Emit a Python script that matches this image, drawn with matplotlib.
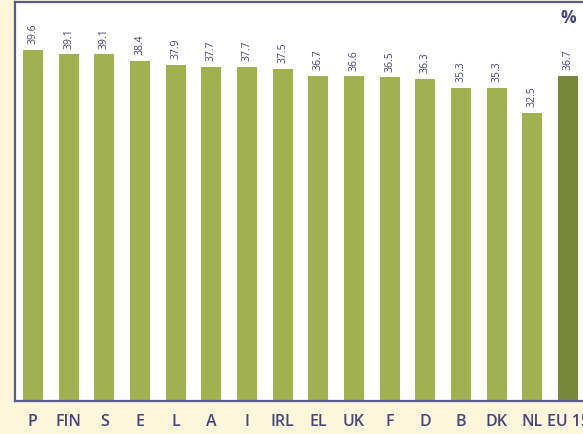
import matplotlib
matplotlib.use("Agg")
import matplotlib.pyplot as plt

categories = ["P", "FIN", "S", "E", "L", "A", "I", "IRL", "EL", "UK", "F", "D", "B", "DK", "NL", "EU 15"]
values = [39.6, 39.1, 39.1, 38.4, 37.9, 37.7, 37.7, 37.5, 36.7, 36.6, 36.5, 36.3, 35.3, 35.3, 32.5, 36.7]

bg = "#FFF6DC"
navy = "#45457F"
green = "#A1B150"
dark = "#78873C"

plt.rcParams['font.family'] = ['Open Sans', 'DejaVu Sans']

fig = plt.figure(figsize=(5.83, 4.34), dpi=100, facecolor=bg)
ax = fig.add_axes([15/583, 33/434, 571/583, 399/434])
ax.set_facecolor("white")

x = list(range(len(categories)))
colors = [green] * (len(categories) - 1) + [dark]
ax.bar(x, values, width=0.56, color=colors, zorder=2)

for xi, v in zip(x, values):
    ax.text(xi, v + 0.65, f"{v:.1f}", rotation=90, ha="center", va="bottom",
            fontsize=7.5, color=navy)

ax.set_xlim(-0.5, 15.5)
ax.set_ylim(0, 45)
ax.set_yticks([])
ax.set_xticks(x)
ax.set_xticklabels(categories, fontsize=11.5, color=navy, fontweight="semibold")
ax.tick_params(axis="x", length=0, pad=9)

for s in ["left", "top", "bottom"]:
    ax.spines[s].set_color("#5A5A92")
    ax.spines[s].set_linewidth(1.6)
ax.spines["right"].set_visible(False)

fig.text(568/583, 1 - 18/434, "%", fontsize=12.5, fontweight="bold", color=navy,
         ha="center", va="center")

fig.savefig("out.png", dpi=100, facecolor=bg)
